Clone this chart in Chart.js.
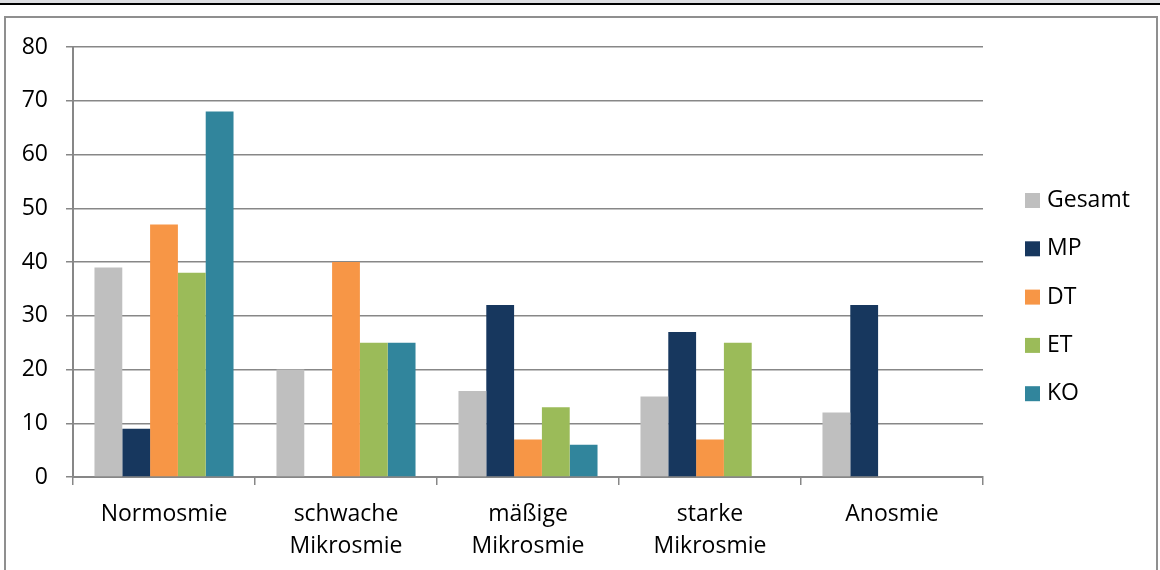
<!DOCTYPE html>
<html>
<head>
<meta charset="utf-8">
<script src="https://cdn.jsdelivr.net/npm/chart.js"></script>
<style>
  html, body { margin: 0; padding: 0; background: #fff; }
  #page { position: relative; width: 1160px; height: 570px; overflow: hidden; }
  #band { position: absolute; left: 0; top: 0; width: 1160px; height: 3px; background: #dcdde1; }
  #rule { position: absolute; left: 0; top: 3px; width: 1160px; height: 2px; background: #000; }
  #frame { position: absolute; left: 4px; top: 16px; width: 1150px; height: 600px;
           border: 2px solid #8f8f8f; border-bottom: none; }
  #chart { position: absolute; left: 0; top: 0; }
</style>
</head>
<body>
<div id="page">
  <div id="band"></div>
  <div id="rule"></div>
  <div id="frame"></div>
  <canvas id="chart" width="1160" height="570"></canvas>
</div>
<script>
// categories (x axis)
const categories = [
  'Normosmie',
  ['schwache', 'Mikrosmie'],
  ['mäßige', 'Mikrosmie'],
  ['starke', 'Mikrosmie'],
  'Anosmie'
];

// series values (%)
const gesamt = [39, 20, 16, 15, 12];
const mp     = [9, 0, 32, 27, 32];
const dt     = [47, 40, 7, 7, 0];
const et     = [38, 25, 13, 25, 0];
const ko     = [68, 25, 6, 0, 0];

const seriesNames = ['Gesamt', 'MP', 'DT', 'ET', 'KO'];
const seriesColors = ['#bfbfbf', '#17375e', '#f79646', '#9bbb59', '#31859c'];

// y axis ticks
const yMin = 0;
const yMax = 80;
const yStep = 10;

const FONT = '"Open Sans", sans-serif';
const gridColor = '#878787';

// legend on the right, drawn from the datasets
const sideLegend = {
  id: 'sideLegend',
  afterDraw(chart) {
    const ctx = chart.ctx;
    const x = 1025, y0 = 200.5, step = 48.3, box = 15;
    ctx.save();
    ctx.font = '23px ' + FONT;
    ctx.textBaseline = 'middle';
    ctx.textAlign = 'left';
    chart.data.datasets.forEach((ds, i) => {
      const cy = y0 + i * step;
      ctx.fillStyle = ds.backgroundColor;
      ctx.fillRect(x, cy - box / 2, box, box);
      ctx.fillStyle = '#000';
      ctx.fillText(ds.label, x + 22, cy);
    });
    ctx.restore();
  }
};

const seriesData = [gesamt, mp, dt, et, ko];

new Chart(document.getElementById('chart'), {
  type: 'bar',
  data: {
    labels: categories,
    datasets: seriesNames.map((name, i) => ({
      label: name,
      data: seriesData[i],
      backgroundColor: seriesColors[i],
      borderWidth: 0,
      categoryPercentage: 0.764,
      barPercentage: 1.0
    }))
  },
  plugins: [sideLegend],
  options: {
    responsive: false,
    animation: false,
    layout: { padding: { left: 0, right: 177, top: 47, bottom: 0 } },
    plugins: {
      legend: { display: false },
      tooltip: { enabled: false }
    },
    scales: {
      x: {
        grid: { drawOnChartArea: false, color: gridColor, lineWidth: 1.5, tickLength: 8, offset: true },
        border: { color: gridColor, width: 2 },
        ticks: {
          color: '#000',
          font: { family: FONT, size: 23, lineHeight: 1.37 },
          padding: 14,
          maxRotation: 0,
          autoSkip: false
        },
        afterFit: scale => { scale.height = 93; }
      },
      y: {
        min: yMin,
        max: yMax,
        ticks: {
          stepSize: yStep,
          color: '#000',
          font: { family: FONT, size: 23 },
          padding: 18
        },
        grid: { color: gridColor, lineWidth: 1.5, tickLength: 7 },
        border: { color: gridColor, width: 2 },
        afterFit: scale => { scale.width = 73; }
      }
    }
  }
});
</script>
</body>
</html>
